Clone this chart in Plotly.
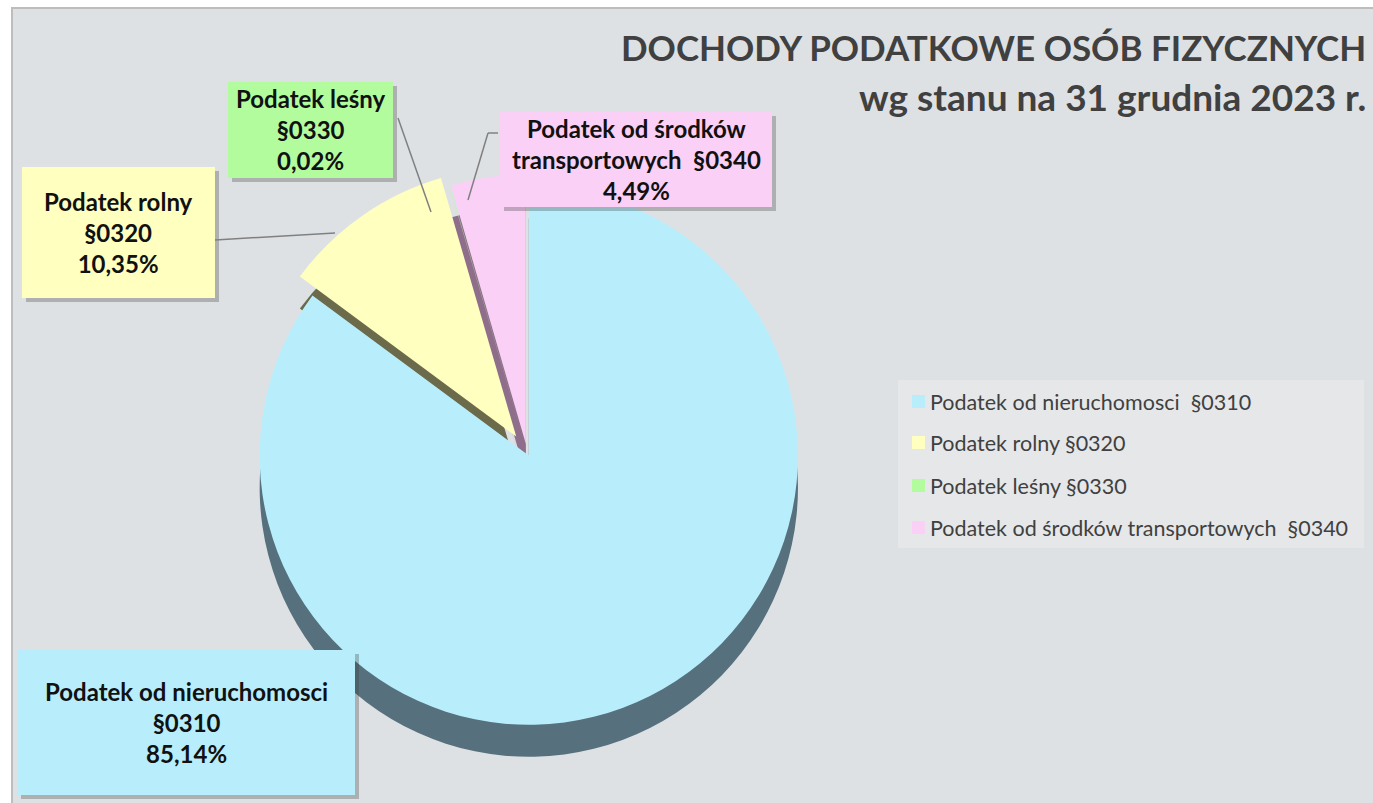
import plotly.graph_objects as go

W, H = 1373, 803

categories = [
    "Podatek od nieruchomosci  §0310",
    "Podatek rolny §0320",
    "Podatek leśny §0330",
    "Podatek od środków transportowych  §0340",
]
label_lines = [
    ["Podatek od nieruchomosci", "§0310"],
    ["Podatek rolny", "§0320"],
    ["Podatek leśny", "§0330"],
    ["Podatek od środków", "transportowych  §0340"],
]
values = [85.14, 10.35, 0.02, 4.49]
colors = ["#B8EEFC", "#FFFFC0", "#B3FC9E", "#FAD0F6"]
side_colors = ["#56717D", "#6B6A4B", "#46703A", "#8E6E8A"]
pulls = [0.015, 0.07, 0.02, 0.03]

title_1 = "DOCHODY PODATKOWE OSÓB FIZYCZNYCH"
title_2 = "wg stanu na 31 grudnia 2023 r."


def px(x):
    return x / W


def py(y):
    return 1 - y / H


def pct(v):
    return f"{v:.2f}".replace(".", ",") + "%"


CX, CY, S = 527, 452, 288   # pie centre and half-size of domain (px)
DEPTH = 32

fig = go.Figure()
# side (depth) of the pie: same data, darker colours, shifted down
fig.add_trace(go.Pie(
    labels=categories, values=values, sort=False, direction="clockwise", rotation=0,
    marker=dict(colors=side_colors, line=dict(width=0)), pull=pulls,
    textinfo="none", hoverinfo="skip", showlegend=False,
    domain=dict(x=[px(CX - S), px(CX + S)], y=[py(CY + DEPTH + S), py(CY + DEPTH - S)]),
))
# top surface
fig.add_trace(go.Pie(
    labels=categories, values=values, sort=False, direction="clockwise", rotation=0,
    marker=dict(colors=colors, line=dict(width=0)), pull=pulls,
    textinfo="none", hoverinfo="label+percent", showlegend=False,
    domain=dict(x=[px(CX - S), px(CX + S)], y=[py(CY + S), py(CY - S)]),
))

shapes = []
# chart frame
shapes.append(dict(type="rect", xref="paper", yref="paper", x0=px(12), y0=py(8), x1=px(W + 5), y1=py(H + 5),
                   fillcolor="#DEE1E4", line=dict(color="#BDBDBD", width=2), layer="below"))

# label boxes (left, top, right, bottom) in px
boxes = [
    (17, 650, 355, 795),
    (22, 167, 215, 298),
    (228, 82, 393, 178),
    (500, 112, 772, 207),
]
for (l, t, r, b), c in zip(boxes, colors):
    shapes.append(dict(type="rect", xref="paper", yref="paper", x0=px(l + 4), y0=py(t + 4), x1=px(r + 4), y1=py(b + 4),
                       fillcolor="rgba(60,60,60,0.3)", line=dict(width=0), layer="above"))
    shapes.append(dict(type="rect", xref="paper", yref="paper", x0=px(l), y0=py(t), x1=px(r), y1=py(b),
                       fillcolor=c, line=dict(width=0), layer="above"))

# leader lines
lead = [
    [(215, 240), (335, 233)],
    [(398, 118), (431, 212)],
    [(498, 133), (488, 133), (468, 200)],
]
for pts in lead:
    for (x0, y0), (x1, y1) in zip(pts[:-1], pts[1:]):
        shapes.append(dict(type="line", xref="paper", yref="paper", x0=px(x0), y0=py(y0), x1=px(x1), y1=py(y1),
                           line=dict(color="#808080", width=1.5)))

annotations = []
for (l, t, r, b), lines, v in zip(boxes, label_lines, values):
    txt = "<br>".join(lines + [pct(v)])
    annotations.append(dict(xref="paper", yref="paper", x=px((l + r) / 2), y=py((t + b) / 2),
                            xanchor="center", yanchor="middle", showarrow=False, align="center",
                            text="<b>" + txt + "</b>",
                            font=dict(family="Lato", size=24, color="#111111", weight=900)))

annotations.append(dict(xref="paper", yref="paper", x=px(1368), y=py(47), xanchor="right", yanchor="middle",
                        showarrow=False, text="<b>" + title_1 + "</b>",
                        font=dict(family="Lato", size=35, color="#404040")))
annotations.append(dict(xref="paper", yref="paper", x=px(1368), y=py(96), xanchor="right", yanchor="middle",
                        showarrow=False, text="<b>" + title_2 + "</b>",
                        font=dict(family="Lato", size=37, color="#404040")))

# legend (drawn from the categories list)
shapes.append(dict(type="rect", xref="paper", yref="paper", x0=px(898), y0=py(380), x1=px(1364), y1=py(548),
                   fillcolor="#E6E7E9", line=dict(width=0), layer="below"))
leg_y = [402, 443, 486, 528]
for cat, c, y in zip(categories, colors, leg_y):
    shapes.append(dict(type="rect", xref="paper", yref="paper", x0=px(912), y0=py(y - 7), x1=px(925), y1=py(y + 6),
                       fillcolor=c, line=dict(width=0), layer="above"))
    annotations.append(dict(xref="paper", yref="paper", x=px(928), y=py(y), xanchor="left", yanchor="middle",
                            showarrow=False, text=cat,
                            font=dict(family="Lato", size=21.5, color="#404040")))

fig.update_layout(
    width=W,
    height=H,
    margin=dict(l=0, r=0, t=0, b=0),
    paper_bgcolor="#FFFFFF",
    plot_bgcolor="#DEE1E4",
    shapes=shapes,
    annotations=annotations,
    showlegend=False,
)

fig.write_html("out.html", config={"displayModeBar": False},
               post_script="document.body.style.margin='0';document.body.style.overflow='hidden';")
